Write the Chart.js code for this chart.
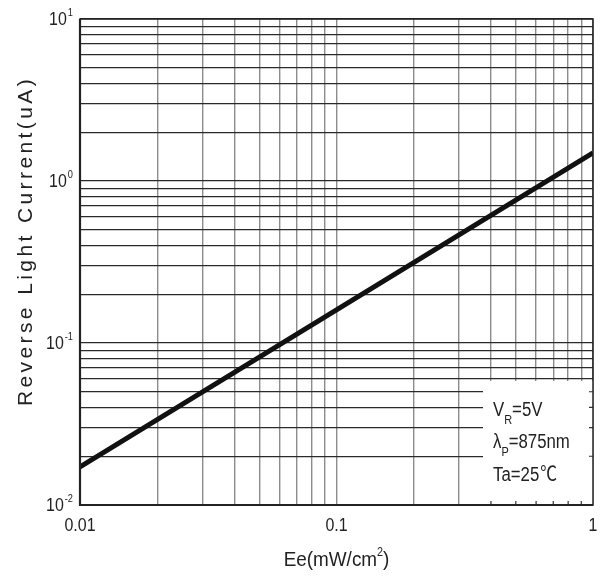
<!DOCTYPE html>
<html>
<head>
<meta charset="utf-8">
<script src="https://cdn.jsdelivr.net/npm/chart.js@4.4.1/dist/chart.umd.min.js"></script>
<style>
  html, body { margin: 0; padding: 0; background: #fff; }
  #wrap { width: 605px; height: 583px; position: relative; }
</style>
</head>
<body>
<div id="wrap"><canvas id="chart" width="605" height="583"></canvas></div>
<script>
'use strict'
// curve (log-log straight line)
const irradiance = [0.01, 0.1, 1];
const lightCurrent = [0.0172, 0.16, 1.49];

// axis ticks
const xGridValues = [0.01,0.02,0.03,0.04,0.05,0.06,0.07,0.08,0.09,0.1,0.2,0.3,0.4,0.5,0.6,0.7,0.8,0.9,1];
const xLabelValues = [0.01, 0.1, 1];
const xLabelTexts = ['0.01', '0.1', '1'];
const yGridValues = [0.01,0.02,0.03,0.04,0.05,0.06,0.07,0.08,0.09,0.1,0.2,0.3,0.4,0.5,0.6,0.7,0.8,0.9,1,2,3,4,5,6,7,8,9,10];
const yLabelValues = [0.01, 0.1, 1, 10];
const yLabelExps = ['-2', '-1', '0', '1'];

// test conditions box
const noteLines = [['V', 'R', '=5V'], ['\u03bb', 'P', '=875nm'], ['Ta=25', '', '\u2103']];

const FONT = '"Liberation Sans", Arial, sans-serif';
let SX = 0.84; // narrow look of the original lettering
const ctxEl = document.getElementById('chart');

// draws horizontally squeezed text, returns its width
function txt(ctx, s, x, y, size, align, family) {
    ctx.save();
    ctx.font = size + 'px ' + (family || FONT);
    const w = ctx.measureText(s).width * SX;
    const dx = align === 'center' ? -w / 2 : (align === 'right' ? -w : 0);
    ctx.translate(x + dx, y);
    ctx.scale(SX, 1);
    ctx.textAlign = 'left';
    ctx.textBaseline = 'alphabetic';
    ctx.fillText(s, 0, 0);
    ctx.restore();
    return w;
}
function txtWidth(ctx, s, size, family) {
    ctx.save();
    ctx.font = size + 'px ' + (family || FONT);
    const w = ctx.measureText(s).width * SX;
    ctx.restore();
    return w;
}

const textPlugin = {
    id: 'texts',
    beforeDatasetsDraw(chart) {
        // white condition box drawn over the grid
        const ctx = chart.ctx, a = chart.chartArea;
        const xs = chart.scales.x, ys = chart.scales.y;
        const bx = 483, by = 381;
        ctx.save();
        ctx.fillStyle = '#fff';
        ctx.fillRect(bx, by, a.right - bx, a.bottom - by);
        ctx.strokeStyle = '#333';
        ctx.lineWidth = 1.2;
        ctx.beginPath();
        xGridValues.forEach(v => {
            const px = xs.getPixelForValue(v);
            if (px > bx && px < a.right - 1) { ctx.moveTo(px, a.bottom); ctx.lineTo(px, a.bottom - 4); }
        });
        yGridValues.forEach(v => {
            const py = ys.getPixelForValue(v);
            if (py > by && py < a.bottom - 1) { ctx.moveTo(a.right, py); ctx.lineTo(a.right - 4, py); }
        });
        ctx.stroke();
        ctx.restore();
    },
    afterDraw(chart) {
        const ctx = chart.ctx, a = chart.chartArea;
        const xs = chart.scales.x, ys = chart.scales.y;
        ctx.save();
        // frame
        ctx.strokeStyle = '#222';
        ctx.lineWidth = 1.5;
        ctx.strokeRect(a.left, a.top, a.right - a.left, a.bottom - a.top);
        ctx.lineWidth = 2.2;
        ctx.beginPath();
        ctx.moveTo(a.left, a.top); ctx.lineTo(a.left, a.bottom); ctx.lineTo(a.right, a.bottom);
        ctx.stroke();

        ctx.fillStyle = '#222';
        // y labels 10^n
        yLabelValues.forEach((v, i) => {
            const py = ys.getPixelForValue(v);
            const ew = txt(ctx, yLabelExps[i], 73, py - 3, 11, 'right');
            txt(ctx, '10', 73 - ew - 1, py + 6, 19, 'right');
        });
        // x labels
        xLabelValues.forEach((v, i) => {
            txt(ctx, xLabelTexts[i], xs.getPixelForValue(v), 531, 19, 'center');
        });
        // x title
        SX = 0.9;
        const t1 = 'Ee(mW/cm', t2 = '2', t3 = ')';
        const w1 = txtWidth(ctx, t1, 21), w2 = txtWidth(ctx, t2, 12), w3 = txtWidth(ctx, t3, 21);
        const cx = (a.left + a.right) / 2;
        const sx = cx - (w1 + w2 + w3) / 2;
        txt(ctx, t1, sx, 566, 21, 'left');
        txt(ctx, t2, sx + w1, 556, 12, 'left');
        txt(ctx, t3, sx + w1 + w2, 566, 21, 'left');
        SX = 0.84;
        // y title, stretched with letter spacing
        ctx.save();
        ctx.translate(32, 241);
        ctx.rotate(-Math.PI / 2);
        const title = 'Reverse Light Current(uA)';
        ctx.font = '21px ' + FONT;
        const nat = ctx.measureText(title).width;
        const sp = (330 - nat) / title.length;
        ctx.letterSpacing = sp.toFixed(2) + 'px';
        const full = ctx.measureText(title).width;
        ctx.textAlign = 'left';
        ctx.fillText(title, -full / 2, 0);
        ctx.restore();
        // conditions
        const base = [416, 448, 481];
        noteLines.forEach((ln, i) => {
            let x = 493;
            x += txt(ctx, ln[0], x, base[i], 20, 'left');
            if (ln[1]) x += txt(ctx, ln[1], x, base[i] + 8, 13, 'left');
            if (ln[1]) txt(ctx, ln[2], x, base[i], 20, 'left');
            else txt(ctx, ln[2], x + 1, base[i], 20, 'left', '"Noto Sans CJK SC", sans-serif');
        });
        ctx.restore();
    }
};

const chart = new Chart(ctxEl, {
    type: 'line',
    data: {
        datasets: [{
            data: irradiance.map((x, i) => ({x: x, y: lightCurrent[i]})),
            borderColor: '#111',
            borderWidth: 5,
            pointRadius: 0,
            tension: 0,
            fill: false
        }]
    },
    options: {
        responsive: false,
        animation: false,
        layout: { padding: { top: 19, right: 12, left: 0, bottom: 0 } },
        plugins: { legend: { display: false }, tooltip: { enabled: false } },
        scales: {
            x: {
                type: 'logarithmic',
                min: 0.01, max: 1,
                afterBuildTicks: s => { s.ticks = xGridValues.map(v => ({value: v})); },
                afterFit: s => { s.height = 78; },
                grid: { color: '#8c8c8c', lineWidth: 1.4, drawTicks: false },
                border: { display: false },
                ticks: { display: false, autoSkip: false }
            },
            y: {
                type: 'logarithmic',
                min: 0.01, max: 10,
                afterBuildTicks: s => { s.ticks = yGridValues.map(v => ({value: v})); },
                afterFit: s => { s.width = 80; },
                grid: { color: '#2a2a2a', lineWidth: 1.3, drawTicks: false },
                border: { display: false },
                ticks: { display: false, autoSkip: false }
            }
        }
    },
    plugins: [textPlugin]
});
</script>
</body>
</html>
